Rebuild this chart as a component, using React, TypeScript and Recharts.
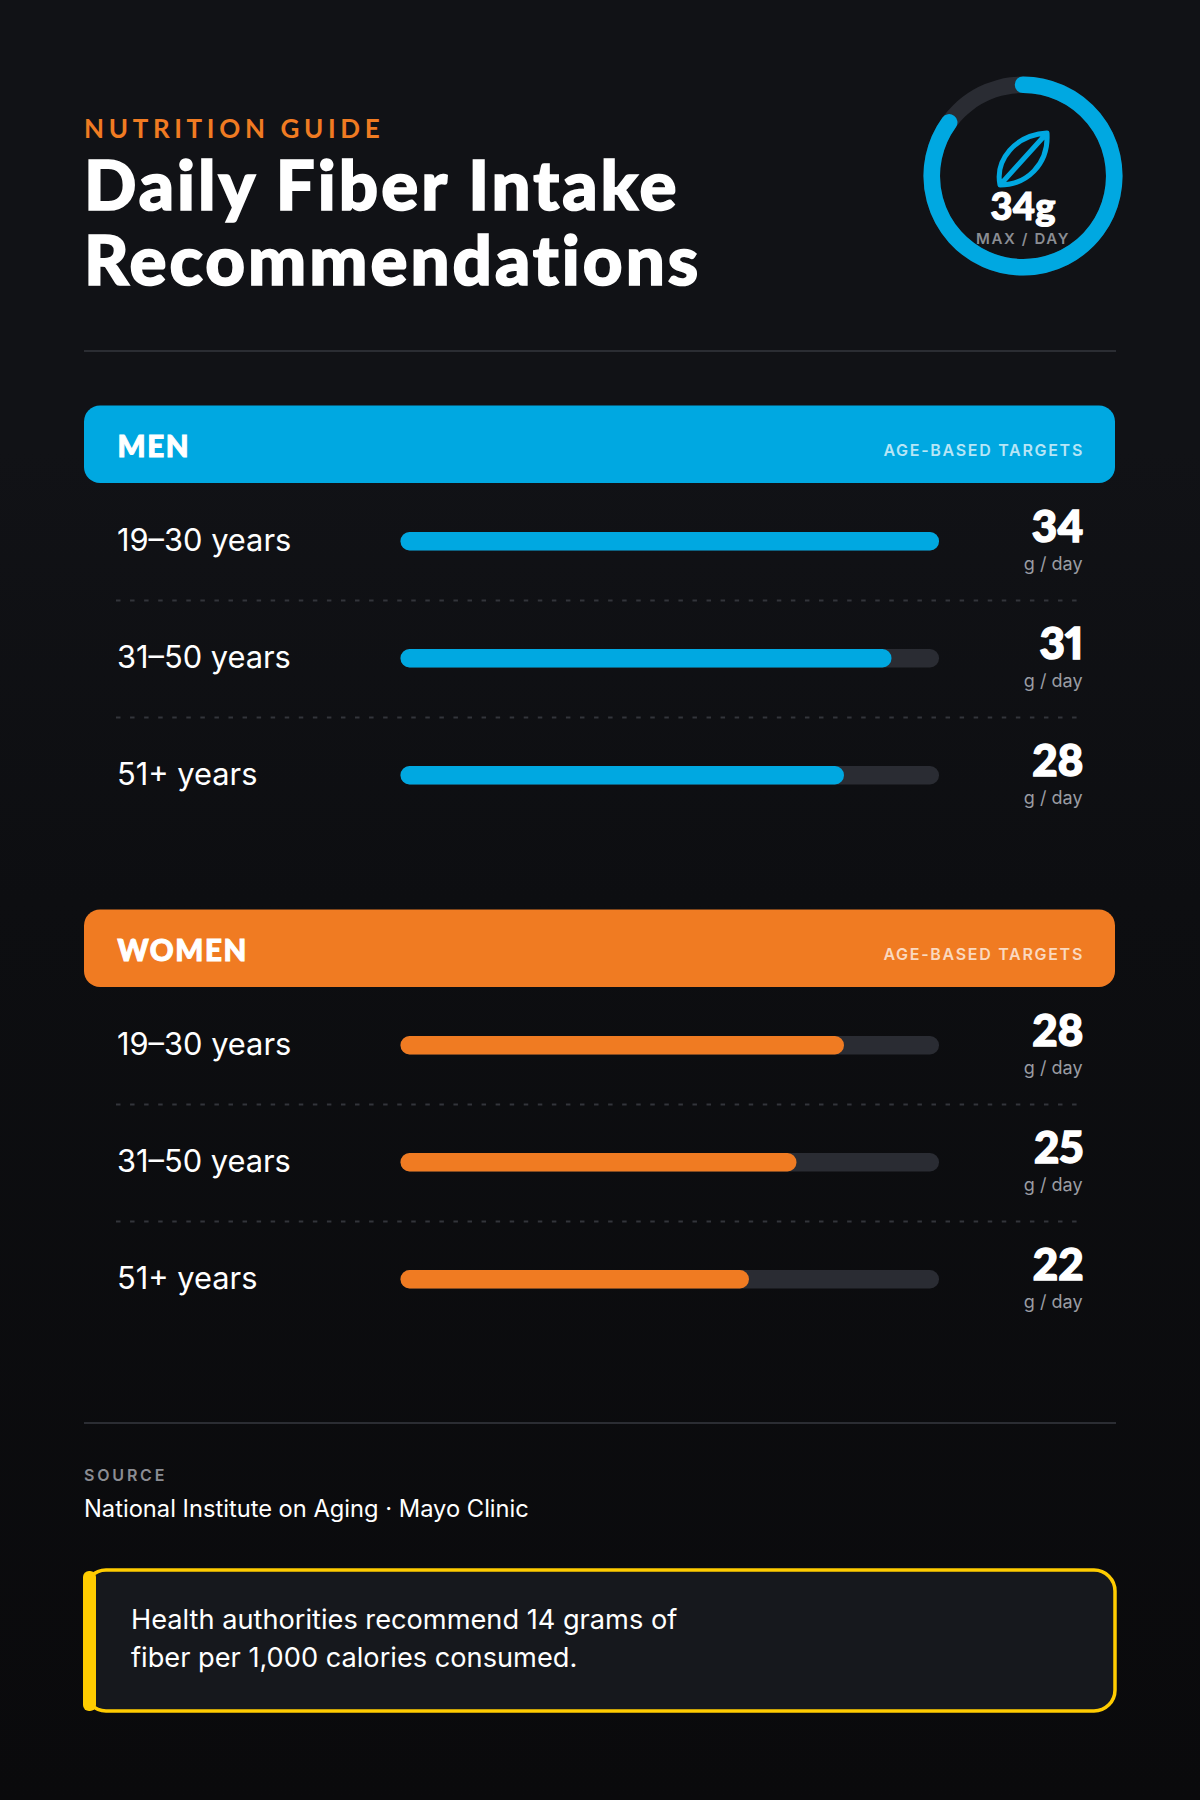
import { Bar, BarChart, Cell, LabelList, Pie, PieChart, XAxis, YAxis } from 'recharts';

const ageGroups = ['19–30 years', '31–50 years', '51+ years'];
const menValues = [34, 31, 28];
const womenValues = [28, 25, 22];
const maxValue = 34;
const ringValues = [34, 6];
const unitLabel = 'g / day';
const sourceText = 'National Institute on Aging · Mayo Clinic';

const BLUE = '#00a8e1';
const ORANGE = '#f07b22';
const YELLOW = '#ffcc00';
const TRACK = '#2a2c33';
const RULE = '#2b2d33';
const HEAVY = 'Lato, sans-serif';
const BODY = 'Inter, sans-serif';

// Lato tops out lighter than the original face, a thin outline makes up the weight
const heavyText = {
  fontFamily: HEAVY,
  fontWeight: 900,
  fontVariantLigatures: 'none',
  fontVariantNumeric: 'proportional-nums',
  stroke: '#ffffff',
  paintOrder: 'stroke',
} as const;

function RowTick({ y, payload, index }: any) {
  return (
    <g>
      <text x={117} y={y + 9.6} fill="#ffffff" fontFamily={BODY} fontSize={30.8} fontWeight={400}>
        {payload.value}
      </text>
      {index < ageGroups.length - 1 && (
        <line x1={116} x2={1077} y1={y + 59} y2={y + 59} stroke="#33353b" strokeWidth={2} strokeDasharray="4.5 9.56" />
      )}
    </g>
  );
}

function ValueLabel({ y, height, value }: any) {
  const cy = y + height / 2;
  return (
    <g>
      <text x={1083.5} y={cy + 1} textAnchor="end" fill="#ffffff" fontSize={44} strokeWidth={1.4} style={heavyText}>
        {value}
      </text>
      <text x={1082.5} y={cy + 29} textAnchor="end" fill="#9a9ca3" fontFamily={BODY} fontSize={18}>
        {unitLabel}
      </text>
    </g>
  );
}

function AgeBars({ values, color, top }: { values: number[]; color: string; top: number }) {
  const data = ageGroups.map((label, i) => ({ label, value: values[i] }));
  return (
    <div style={{ position: 'absolute', left: 0, top }}>
      <BarChart
        width={1200}
        height={351}
        data={data}
        layout="vertical"
        margin={{ top: 0, right: 261, bottom: 0, left: 84 }}
      >
        <XAxis type="number" hide domain={[0, maxValue]} />
        <YAxis
          type="category"
          dataKey="label"
          width={316.5}
          interval={0}
          tickLine={false}
          axisLine={false}
          tick={RowTick}
        />
        <Bar
          dataKey="value"
          fill={color}
          barSize={18.5}
          radius={9}
          background={{ fill: TRACK, radius: 9 }}
          isAnimationActive={false}
        >
          <LabelList dataKey="value" content={ValueLabel} />
        </Bar>
      </BarChart>
    </div>
  );
}

function GroupHeader({ title, color, y }: { title: string; color: string; y: number }) {
  return (
    <g>
      <rect x={84} y={y} width={1031} height={77.5} rx={16} fill={color} />
      <text x={117.5} y={y + 51.5} fill="#ffffff" fontSize={29.5} strokeWidth={1} letterSpacing={1.6} style={heavyText}>
        {title}
      </text>
      <text
        x={1084}
        y={y + 50}
        textAnchor="end"
        fill="#ffffff"
        fillOpacity={0.72}
        fontFamily={BODY}
        fontSize={16}
        fontWeight={600}
        letterSpacing={1.7}
      >
        AGE-BASED TARGETS
      </text>
    </g>
  );
}

function Ring() {
  const data = ringValues.map((value) => ({ value }));
  return (
    <div style={{ position: 'absolute', left: 903, top: 56 }}>
      <PieChart width={240} height={240} margin={{ top: 0, right: 0, bottom: 0, left: 0 }}>
        <Pie
          data={[{ value: 40 }]}
          dataKey="value"
          cx={120}
          cy={120}
          innerRadius={83}
          outerRadius={99.5}
          startAngle={90}
          endAngle={-270}
          fill={TRACK}
          stroke="none"
          isAnimationActive={false}
        />
        <Pie
          data={data}
          dataKey="value"
          cx={120}
          cy={120}
          innerRadius={91.2}
          outerRadius={91.3}
          startAngle={90}
          endAngle={-270}
          paddingAngle={0}
          isAnimationActive={false}
        >
          <Cell fill={BLUE} stroke={BLUE} strokeWidth={16.5} strokeLinecap="round" strokeLinejoin="round" />
          <Cell fill="none" stroke="none" />
        </Pie>
      </PieChart>
    </div>
  );
}

export default function App() {
  return (
    <div
      style={{
        position: 'absolute',
        left: 0,
        top: 0,
        width: 1200,
        height: 1800,
        overflow: 'hidden',
        background: 'linear-gradient(180deg, #111216 0%, #111216 25%, #0d0e11 50%, #0a0a0c 100%)',
      }}
    >
      <svg width={1200} height={1800} style={{ position: 'absolute', left: 0, top: 0 }}>
        <text x={84} y={138} fill={ORANGE} fontFamily={HEAVY} fontSize={26} fontWeight={700} letterSpacing={4.65}>
          NUTRITION GUIDE
        </text>
        <text x={84} y={209.5} fill="#ffffff" fontSize={69} strokeWidth={1.6} letterSpacing={3} style={heavyText}>
          Daily Fiber Intake
        </text>
        <text x={84} y={284.5} fill="#ffffff" fontSize={69} strokeWidth={1.6} letterSpacing={3} style={heavyText}>
          Recommendations
        </text>
        <rect x={84} y={350} width={1032} height={2} fill={RULE} />

        <GroupHeader title="MEN" color={BLUE} y={405.5} />
        <GroupHeader title="WOMEN" color={ORANGE} y={909.5} />

        <rect x={84} y={1422} width={1032} height={2} fill={RULE} />
        <text x={84} y={1481} fill="#8b8d93" fontFamily={BODY} fontSize={16} fontWeight={600} letterSpacing={2.8}>
          SOURCE
        </text>
        <text x={84} y={1517} fill="#ffffff" fontFamily={BODY} fontSize={23.7}>
          {sourceText}
        </text>

        <rect x={85} y={1570} width={1030} height={141} rx={21} fill="#16181d" stroke={YELLOW} strokeWidth={3.5} />
        <rect x={83} y={1571} width={13} height={140} rx={6} fill={YELLOW} />
        <text x={131} y={1629} fill="#ffffff" fontFamily={BODY} fontSize={27.2}>
          Health authorities recommend 14 grams of
        </text>
        <text x={131} y={1667} fill="#ffffff" fontFamily={BODY} fontSize={27.2}>
          fiber per 1,000 calories consumed.
        </text>
      </svg>

      <AgeBars values={menValues} color={BLUE} top={483} />
      <AgeBars values={womenValues} color={ORANGE} top={987} />
      <Ring />

      <svg width={1200} height={300} style={{ position: 'absolute', left: 0, top: 0 }}>
        <path
          d="M1000 185 C995 160 1015 135 1047 133 C1049 165 1026 185 1000 185 Z M1000 185 L1047 133"
          fill="none"
          stroke={BLUE}
          strokeWidth={5}
          strokeLinejoin="round"
        />
        <text x={1023} y={220} textAnchor="middle" fill="#ffffff" fontSize={38} strokeWidth={1.2} style={heavyText}>
          34g
        </text>
        <text
          x={1023}
          y={244}
          textAnchor="middle"
          fill="#8b8d93"
          fontFamily={BODY}
          fontSize={15}
          fontWeight={600}
          letterSpacing={1.6}
        >
          MAX / DAY
        </text>
      </svg>
    </div>
  );
}
